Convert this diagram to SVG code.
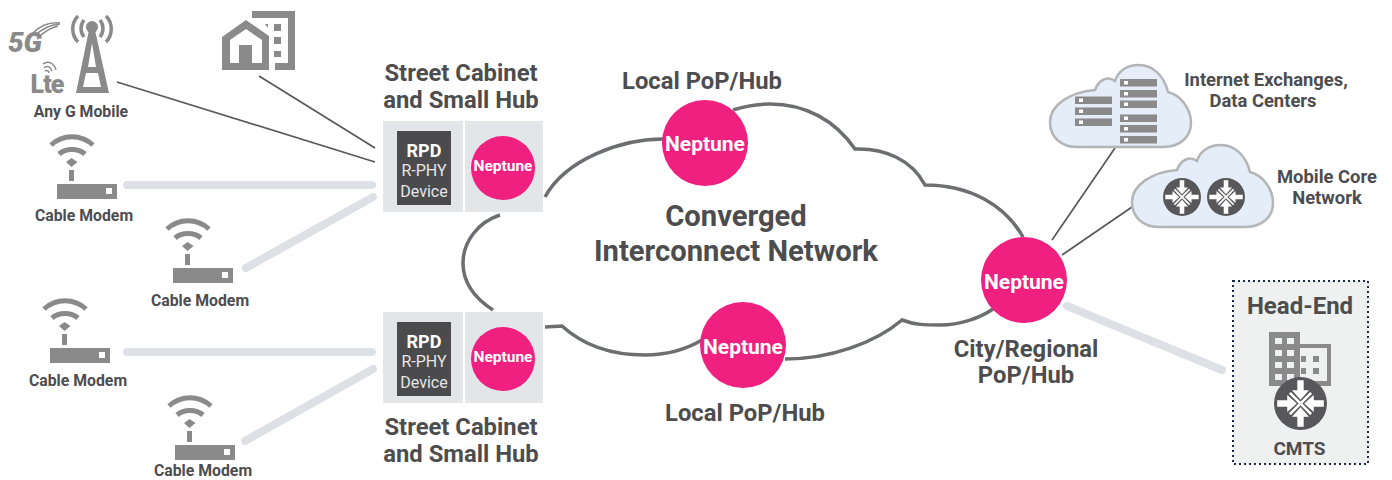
<svg xmlns="http://www.w3.org/2000/svg" xmlns:xlink="http://www.w3.org/1999/xlink" width="1392" height="480" viewBox="0 0 1392 480">
<style>
text{font-family:Roboto,"Liberation Sans",sans-serif;font-weight:700;text-anchor:middle;fill:#4d4d4f}
.g{fill:#8a8a8a}
.lbl{font-size:15.800px}
.h{font-size:23.800px}
.n{fill:#f02080}
.thin{stroke:#58585a;stroke-width:1.7;fill:none}
.thick{stroke:#dde0e5;stroke-width:8;fill:none;stroke-linecap:round}
.box{fill:#e2e6e9}
.dk{fill:#4b4b4d}
.cl{fill:#e4edf8;stroke:#b3b5b7;stroke-width:2.500}
.srv{fill:#8a8a8a}
.sq{fill:#fff}
.side{font-size:18.400px}
.rp{fill:#e6e6e6;font-weight:400;font-size:16px}
.wave{fill:none;stroke:#8a8a8a}
</style>
<defs>
<symbol id="router" viewBox="-50 -50 100 100" overflow="visible">
<circle r="50" fill="#58585a"/>
<path d="M-20-20L20 20M20-20L-20 20" stroke="#fff" stroke-width="5" fill="none"/>
<path d="M-6-44H6V-25H16L0-7-16-25H-6ZM-6 44H6V25H16L0 7-16 25H-6ZM-44-6V6H-25V16L-7 0-25-16V-6ZM44-6V6H25V16L7 0 25-16V-6Z" fill="#fff"/>
</symbol>
<g id="modem">
<rect x="57" y="184" width="60" height="15" class="g"/>
<rect x="106" y="188" width="6" height="6" fill="#fff"/>
<rect x="69" y="170" width="5" height="11" class="g"/>
<path d="M66 162L71.500 158 77.500 162 71.500 167Z" class="g"/>
<path d="M51 145C63 134 81 134 93 145M59 154C66 148 78 148 85 154" fill="none" stroke="#8a8a8a" stroke-width="5"/>
</g>
<path id="cloud" d="M1077 147H1163C1180 147 1191 137 1191 123C1191 108 1180 95 1168 92C1164 75 1152 65 1139 65C1127 65 1118 71 1115 81C1108 76 1099 79 1095 90C1070 92 1050 105 1050 122C1050 138 1062 147 1077 147Z"/>
</defs>

<g id="connectors">
<path class="thin" d="M117 82L375 162M259 76L375 148M1115 148L1052 240M1132 207L1062 255"/>
<path class="thick" d="M127 185H372M246 268L373 197M127 352H372M245 441L373 369M1067 306L1222 370"/>
<path d="M663 139C620 139 565 160 545 197M500 215C478 222 463 242 463 263C463 283 476 299 493 310M545 327L562 326C585 347 615 355 645 355C665 355 685 350 702 340M785 359C830 359 875 343 902 320C915 325 925 325 940 325C960 325 980 318 993 309M1023 237C1005 205 970 185 925 185C912 160 885 148 855 149C835 120 805 104 770 104C755 104 745 106 733 110" fill="none" stroke="#6d6e71" stroke-width="3.500"/>
</g>

<g id="any-g-mobile">
<path fill-rule="evenodd" class="g" d="M89 30H95L109 93H76ZM92 43L88 67H96ZM86 73L83 87H101L98 73Z"/>
<circle cx="92" cy="27" r="6" class="g"/>
<path d="M84 20C80 25 80 32 84 37M100 20C104 25 104 32 100 37M78 16C71 23 71 35 78 42M106 16C113 23 113 35 106 42" fill="none" stroke="#8a8a8a" stroke-width="3.500"/>
<text x="25" y="52" font-size="28" font-style="italic" style="fill:#8a8a8a;font-weight:900">5G</text>
<path class="wave" stroke-width="1.500" d="M33 33C41 25 50 22 60 23M35 36C42 28 50 25 60 24M37 39C44 31 50 28 58 26"/>
<text x="47" y="93" font-size="25" style="fill:#8a8a8a;font-weight:900;letter-spacing:-1px">Lte</text>
<path class="wave" stroke-width="1.500" d="M43 64C48 60 54 63 56 70M44 68C47 65 51 67 52 71M45 71C47 70 49 71 49 73"/>
<text class="lbl" x="81" y="117">Any G Mobile</text>
</g>

<g id="home-building">
<path fill-rule="evenodd" class="g" d="M246 20L269 36V70H222V37ZM246 29L230 40V63H239V45H252V63H262V40Z"/>
<path class="g" d="M252 11H295V70H275V63H288V18H252ZM274 24H281V31H274ZM274 37H281V44H274ZM274 51H281V57H274ZM265 24L268 24V28Z"/>
</g>

<g id="modem-1"><use href="#modem"/><text class="lbl" x="84" y="221">Cable Modem</text></g>
<g id="modem-2"><use href="#modem" x="116" y="84"/><text class="lbl" x="200" y="306">Cable Modem</text></g>
<g id="modem-3"><use href="#modem" x="-7" y="164"/><text class="lbl" x="78" y="386">Cable Modem</text></g>
<g id="modem-4"><use href="#modem" x="118" y="261"/><text class="lbl" x="203" y="476">Cable Modem</text></g>

<g id="cabinet-top">
<text class="h" x="461" y="81">Street Cabinet</text>
<text class="h" x="461" y="108">and Small Hub</text>
<rect class="box" x="383" y="121" width="80" height="91"/>
<rect class="box" x="465" y="121" width="78" height="91"/>
<rect class="dk" x="397" y="131" width="54" height="74"/>
<text x="424" y="157" font-size="18" style="fill:#fff">RPD</text>
<text x="424" y="176" class="rp">R-PHY</text>
<text x="424" y="197" class="rp">Device</text>
<circle class="n" cx="503" cy="168" r="32"/>
<text x="503" y="171" font-size="15.500" style="fill:#fff">Neptune</text>
</g>

<g id="cabinet-bottom">
<rect class="box" x="383" y="312" width="80" height="91"/>
<rect class="box" x="465" y="312" width="78" height="91"/>
<rect class="dk" x="397" y="322" width="54" height="74"/>
<text x="424" y="348" font-size="18" style="fill:#fff">RPD</text>
<text x="424" y="367" class="rp">R-PHY</text>
<text x="424" y="388" class="rp">Device</text>
<circle class="n" cx="503" cy="359" r="32"/>
<text x="503" y="362" font-size="15.500" style="fill:#fff">Neptune</text>
<text class="h" x="461" y="435">Street Cabinet</text>
<text class="h" x="461" y="462">and Small Hub</text>
</g>

<g id="network-label">
<text x="736" y="226" font-size="29.200">Converged</text>
<text x="736" y="261" font-size="29.200">Interconnect Network</text>
</g>

<g id="neptune-top">
<text class="h" x="702" y="89">Local PoP/Hub</text>
<circle class="n" cx="705" cy="143" r="43"/>
<text x="705" y="151" font-size="21" style="fill:#fff">Neptune</text>
</g>
<g id="neptune-bottom">
<circle class="n" cx="743" cy="345" r="43"/>
<text x="743" y="354" font-size="21" style="fill:#fff">Neptune</text>
<text class="h" x="745" y="421">Local PoP/Hub</text>
</g>
<g id="neptune-city">
<circle class="n" cx="1024" cy="280" r="43"/>
<text x="1024" y="289" font-size="21" style="fill:#fff">Neptune</text>
<text class="h" x="1026" y="357">City/Regional</text>
<text class="h" x="1026" y="383">PoP/Hub</text>
</g>

<g id="internet-exchanges">
<use href="#cloud" class="cl"/>
<g class="srv">
<rect x="1075" y="96.500" width="37" height="7.500"/><rect x="1075" y="107.500" width="37" height="7.500"/><rect x="1075" y="118.500" width="37" height="7.500"/>
<rect x="1120" y="79" width="37" height="7.500"/><rect x="1120" y="90" width="37" height="7.500"/><rect x="1120" y="100.500" width="37" height="7.500"/>
<rect x="1120" y="114.500" width="37" height="7.500"/><rect x="1120" y="125" width="37" height="7.500"/><rect x="1120" y="136" width="37" height="7.500"/>
</g>
<g class="sq">
<rect x="1079" y="98.500" width="4" height="3.500"/><rect x="1079" y="109.500" width="4" height="3.500"/><rect x="1079" y="120.500" width="4" height="3.500"/>
<rect x="1124" y="81" width="4" height="3.500"/><rect x="1124" y="92" width="4" height="3.500"/><rect x="1124" y="102.500" width="4" height="3.500"/>
<rect x="1124" y="116.500" width="4" height="3.500"/><rect x="1124" y="127" width="4" height="3.500"/><rect x="1124" y="138" width="4" height="3.500"/>
</g>
<text class="side" x="1266" y="86">Internet Exchanges,</text>
<text class="side" x="1263" y="107">Data Centers</text>
</g>

<g id="mobile-core">
<use href="#cloud" class="cl" x="82" y="80"/>
<use href="#router" x="1163" y="178" width="38" height="38"/>
<use href="#router" x="1207" y="178" width="38" height="38"/>
<text class="side" x="1327" y="183">Mobile Core</text>
<text class="side" x="1327" y="204">Network</text>
</g>

<g id="head-end">
<rect x="1233" y="281" width="135" height="183" fill="#eff1f1" stroke="#1b2a4a" stroke-width="2" stroke-dasharray="2 3"/>
<text x="1300" y="314" font-size="24">Head-End</text>
<rect x="1269" y="332" width="31" height="54" class="g"/>
<path fill-rule="evenodd" class="g" d="M1300 344H1331V386H1300ZM1300 348V381H1327V348Z"/>
<g fill="#eff1f1">
<rect x="1275" y="338" width="7" height="6"/><rect x="1287" y="338" width="7" height="6"/>
<rect x="1275" y="350" width="7" height="6"/><rect x="1287" y="350" width="7" height="6"/>
<rect x="1275" y="362" width="7" height="6"/><rect x="1287" y="362" width="7" height="6"/>
<rect x="1275" y="374" width="7" height="6"/><rect x="1287" y="374" width="7" height="6"/>
</g>
<g class="g"><rect x="1313" y="356" width="6" height="6"/><rect x="1313" y="368" width="6" height="6"/><rect x="1301" y="356" width="5" height="6"/><rect x="1301" y="368" width="5" height="6"/></g>
<use href="#router" x="1274" y="377" width="53" height="53"/>
<text x="1299.500" y="455" font-size="19">CMTS</text>
</g>
</svg>
